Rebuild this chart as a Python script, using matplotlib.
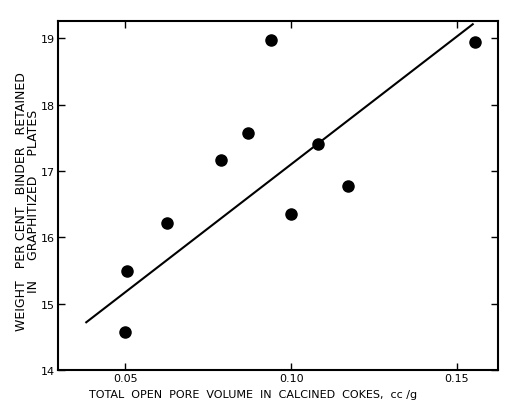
import matplotlib.pyplot as plt

# Pore volume (cc/g) vs binder retained (wt %)
pore_volume = [0.050, 0.0505, 0.0627, 0.0788, 0.0870, 0.0939, 0.1000, 0.1082, 0.1173, 0.1555]
binder_pct = [14.58, 15.50, 16.21, 17.16, 17.57, 18.98, 16.35, 17.40, 16.77, 18.94]

# Fitted straight line end points
fit_x = [0.0382, 0.1548]
fit_y = [14.72, 19.21]

x_ticks = [0.05, 0.10, 0.15]
x_tick_labels = ["0.05", "0.10", "0.15"]
y_ticks = [14, 15, 16, 17, 18, 19]

fig = plt.figure(figsize=(5.05, 4.06), dpi=100)
ax = fig.add_axes([0.115, 0.086, 0.871, 0.86])

ax.plot(fit_x, fit_y, color="black", linewidth=1.5)
ax.plot(pore_volume, binder_pct, "o", color="black", markersize=8)

ax.set_xlim(0.0297, 0.1624)
ax.set_ylim(14, 19.26)

ax.set_xticks(x_ticks)
ax.set_xticklabels(x_tick_labels)
ax.set_yticks(y_ticks)
ax.tick_params(direction="in", top=True, right=True, length=5, width=1,
               labelsize=8, pad=2)

for spine in ax.spines.values():
    spine.set_linewidth(1.5)

ax.set_xlabel("TOTAL  OPEN  PORE  VOLUME  IN  CALCINED  COKES,  cc /g",
              fontsize=8)
ax.xaxis.set_label_coords(0.443, -0.055)
ax.set_ylabel("WEIGHT   PER CENT   BINDER   RETAINED\nIN     GRAPHITIZED     PLATES",
              fontsize=9, linespacing=0.95)
ax.yaxis.set_label_coords(-0.04, 0.485)

fig.savefig("out.png", dpi=100)
